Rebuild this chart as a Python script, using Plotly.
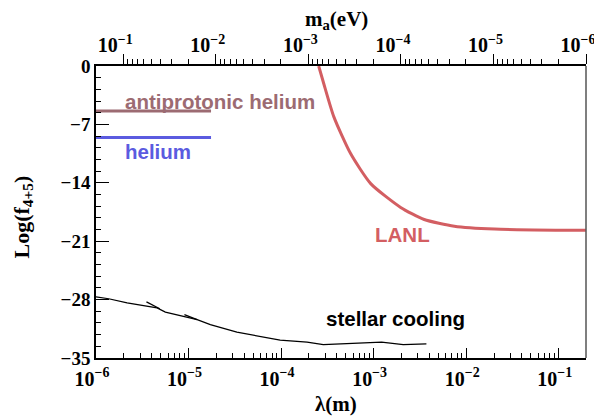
import numpy as np
import plotly.graph_objects as go

HBARC = 1.97327e-7  # eV*m, converts lambda (m) to m_a (eV)
LAM_MIN, LAM_MAX = 1e-6, 0.19734

# LANL limit (lambda in m, log f)
lanl_lam = [2.55e-4, 2.89e-4, 3.72e-4, 5.64e-4, 9.3e-4, 1.96e-3, 3.52e-3, 7.46e-3, 2.03e-2, 1.0e-1, 0.197]
lanl_val = [0.0, -2.1, -6.1, -10.5, -14.1, -16.95, -18.4, -19.2, -19.55, -19.68, -19.7]

# stellar cooling
stel_lam = [1.0e-6, 1.37e-6, 2.17e-6, 4.57e-6, 5.62e-6, 9.64e-6, 1.24e-5, 1.72e-5, 3.33e-5,
            9.77e-5, 1.91e-4, 2.86e-4, 5.56e-4, 1.22e-3, 2.09e-3, 3.72e-3]
stel_val = [-27.67, -27.9, -28.4, -29.0, -29.5, -30.1, -30.4, -31.0, -31.9,
            -32.85, -33.1, -33.4, -33.3, -33.1, -33.4, -33.3]
spur1_lam = [3.51e-6, 4.89e-6]
spur1_val = [-28.27, -29.1]
spur2_lam = [9.02e-6, 1.24e-5]
spur2_val = [-29.8, -30.4]

# helium constraints
apHe_lam = [1.0e-6, 1.75e-5]
apHe_val = [-5.4, -5.4]
he_lam = [1.0e-6, 1.75e-5]
he_val = [-8.57, -8.57]

x_major = [1e-6, 1e-5, 1e-4, 1e-3, 1e-2, 1e-1]
x_labels = ["<b>10<sup>−6</sup></b>", "<b>10<sup>−5</sup></b>", "<b>10<sup>−4</sup></b>",
            "<b>10<sup>−3</sup></b>", "<b>10<sup>−2</sup></b>", "<b>10<sup>−1</sup></b>"]
m_major = [1e-1, 1e-2, 1e-3, 1e-4, 1e-5, 1e-6]
m_labels = ["<b>10<sup>−1</sup></b>", "<b>10<sup>−2</sup></b>", "<b>10<sup>−3</sup></b>",
            "<b>10<sup>−4</sup></b>", "<b>10<sup>−5</sup></b>", "<b>10<sup>−6</sup></b>"]
y_major = [0, -7, -14, -21, -28, -35]
y_labels = ["<b>0</b>", "<b>−7</b>", "<b>−14</b>", "<b>−21</b>", "<b>−28</b>", "<b>−35</b>"]

x_minor = [k * 10.0**e for e in range(-7, 1) for k in range(2, 10)]

C_AP = "#9c6b72"
C_HE = "#5b5be0"
C_LANL = "#d35e62"

fig = go.Figure()
fig.add_trace(go.Scatter(x=lanl_lam, y=lanl_val, mode="lines", line=dict(color=C_LANL, width=3, shape="spline", smoothing=0.6), showlegend=False))
fig.add_trace(go.Scatter(x=stel_lam, y=stel_val, mode="lines", line=dict(color="black", width=1.2), showlegend=False))
fig.add_trace(go.Scatter(x=spur1_lam, y=spur1_val, mode="lines", line=dict(color="black", width=1.2), showlegend=False))
fig.add_trace(go.Scatter(x=spur2_lam, y=spur2_val, mode="lines", line=dict(color="black", width=1.2), showlegend=False))
fig.add_trace(go.Scatter(x=apHe_lam, y=apHe_val, mode="lines", line=dict(color=C_AP, width=3), showlegend=False))
fig.add_trace(go.Scatter(x=he_lam, y=he_val, mode="lines", line=dict(color=C_HE, width=3), showlegend=False))
# invisible trace on top (mass) axis
fig.add_trace(go.Scatter(x=[HBARC / LAM_MIN, HBARC / LAM_MAX], y=[-35, -35], xaxis="x2", mode="lines",
                         line=dict(width=0), hoverinfo="skip", showlegend=False))

lab_font = dict(family="Liberation Sans", size=20.5, weight="bold")
fig.add_annotation(x=np.log10(1.98e-6), y=-4.2, text="antiprotonic helium", showarrow=False, xanchor="left",
                   font=dict(lab_font, color=C_AP))
fig.add_annotation(x=np.log10(1.98e-6), y=-10.3, text="helium", showarrow=False, xanchor="left",
                   font=dict(lab_font, color=C_HE))
fig.add_annotation(x=np.log10(9.9e-4), y=-20.2, text="LANL", showarrow=False, xanchor="left",
                   font=dict(lab_font, color=C_LANL))
fig.add_annotation(x=np.log10(2.92e-4), y=-30.3, text="stellar cooling", showarrow=False, xanchor="left",
                   font=dict(lab_font, color="black"))

serif = "Liberation Serif"
fig.add_annotation(xref="paper", yref="paper", x=0.49, y=1.0, yshift=46, text="<b>m<sub>a</sub>(eV)</b>",
                   showarrow=False, font=dict(family=serif, size=21, color="black"),
                   xanchor="center", yanchor="middle")
fig.add_annotation(xref="paper", yref="paper", x=0.49, y=0, yshift=-46, text="<b>λ(m)</b>",
                   showarrow=False, font=dict(family=serif, size=21, color="black"),
                   xanchor="center", yanchor="middle")
fig.add_annotation(xref="paper", yref="paper", x=0, xshift=-73.5, y=0.5, yshift=-5, text="<b>Log(f<sub>4+5</sub>)</b>",
                   showarrow=False, textangle=-90, font=dict(family=serif, size=22, color="black"),
                   xanchor="center", yanchor="middle")

fig.add_shape(type="line", xref="paper", yref="paper", x0=1, x1=1, y0=0, y1=1,
              line=dict(color="#555555", width=1.5))

xtick_font = dict(family=serif, size=20, color="black")
ytick_font = dict(family=serif, size=19, color="black")
# page body has an 8px default margin: figure is sized/offset to compensate
fig.update_layout(
    width=594, height=409,
    margin=dict(l=87.5, r=16, t=58, b=58.5, autoexpand=False),
    paper_bgcolor="white", plot_bgcolor="white",
    xaxis=dict(type="log", range=[np.log10(LAM_MIN), np.log10(LAM_MAX)], automargin=False,
               tickmode="array", tickvals=x_major, ticktext=x_labels, ticklabeloverflow="allow",
               ticklabelshift=-4, ticklabelstandoff=2,
               ticks="inside", ticklen=10, tickwidth=1.2, tickcolor="black",
               showline=True, linecolor="black", linewidth=1.5,
               showgrid=False, zeroline=False, tickfont=xtick_font,
               minor=dict(tickmode="array", tickvals=x_minor, ticks="inside", ticklen=5,
                          tickwidth=1, tickcolor="black", showgrid=False)),
    xaxis2=dict(type="log", overlaying="x", side="top", anchor="y", automargin=False,
                range=[np.log10(HBARC / LAM_MIN), np.log10(HBARC / LAM_MAX)],
                tickmode="array", tickvals=m_major, ticktext=m_labels, ticklabeloverflow="allow",
                ticklabelshift=8,
                ticks="outside", ticklen=10, tickwidth=1.2, tickcolor="black",
                ticklabelstandoff=-6,
                showline=True, linecolor="black", linewidth=1.5,
                showgrid=False, zeroline=False, tickfont=xtick_font,
                minor=dict(tickmode="array", tickvals=x_minor, ticks="outside", ticklen=5,
                           tickwidth=1, tickcolor="black", showgrid=False)),
    yaxis=dict(range=[-35, 0], tickmode="array", tickvals=y_major, ticktext=y_labels, automargin=False,
               ticks="inside", ticklen=13, tickwidth=1.2, tickcolor="black",
               showline=True, linecolor="black", linewidth=1.5,
               showgrid=False, zeroline=False, tickfont=ytick_font,
               minor=dict(dtick=1.4, tick0=0, ticks="inside", ticklen=5, tickwidth=1,
                          tickcolor="black", showgrid=False)),
)

fig.write_html("out.html")
